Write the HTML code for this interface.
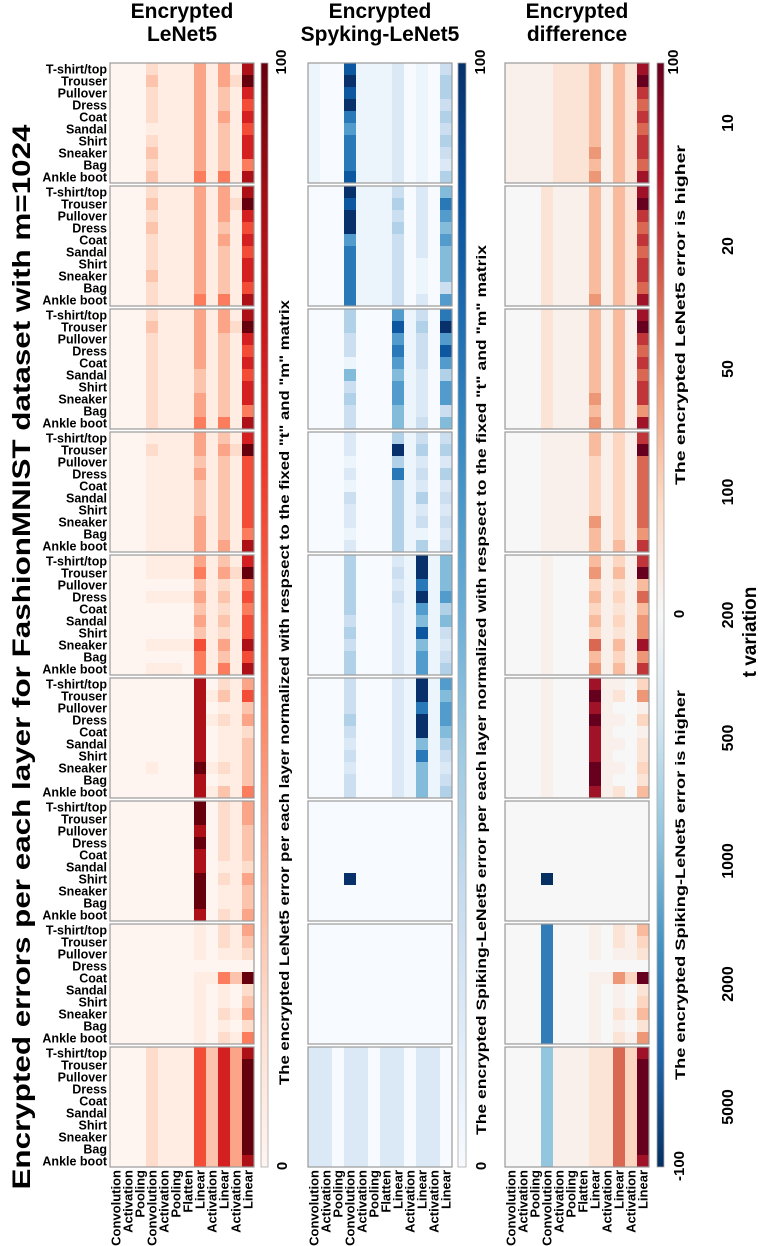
<!DOCTYPE html>
<html><head><meta charset="utf-8">
<style>
html,body{margin:0;padding:0;background:#fff;}
svg{display:block;font-family:"Liberation Sans",Arial,sans-serif;font-weight:bold;}
</style></head>
<body>
<svg id="fig" width="758" height="1246" viewBox="0 0 758 1246">
<defs>
<linearGradient id="gReds" x1="0" y1="1" x2="0" y2="0">
<stop offset="0" stop-color="#fff5f0"/><stop offset=".125" stop-color="#fee0d2"/><stop offset=".25" stop-color="#fcbba1"/><stop offset=".375" stop-color="#fc9272"/><stop offset=".5" stop-color="#fb6a4a"/><stop offset=".625" stop-color="#ef3b2c"/><stop offset=".75" stop-color="#cb181d"/><stop offset=".875" stop-color="#a50f15"/><stop offset="1" stop-color="#67000d"/>
</linearGradient>
<linearGradient id="gBlues" x1="0" y1="1" x2="0" y2="0">
<stop offset="0" stop-color="#f7fbff"/><stop offset=".125" stop-color="#deebf7"/><stop offset=".25" stop-color="#c6dbef"/><stop offset=".375" stop-color="#9ecae1"/><stop offset=".5" stop-color="#6baed6"/><stop offset=".625" stop-color="#4292c6"/><stop offset=".75" stop-color="#2171b5"/><stop offset=".875" stop-color="#08519c"/><stop offset="1" stop-color="#08306b"/>
</linearGradient>
<linearGradient id="gRdBu" x1="0" y1="1" x2="0" y2="0">
<stop offset="0" stop-color="#053061"/><stop offset=".1" stop-color="#2166ac"/><stop offset=".2" stop-color="#4393c3"/><stop offset=".3" stop-color="#92c5de"/><stop offset=".4" stop-color="#d1e5f0"/><stop offset=".5" stop-color="#f7f7f7"/><stop offset=".6" stop-color="#fddbc7"/><stop offset=".7" stop-color="#f4a582"/><stop offset=".8" stop-color="#d6604d"/><stop offset=".9" stop-color="#b2182b"/><stop offset="1" stop-color="#67001f"/>
</linearGradient>
</defs>

<text transform="translate(30,657) rotate(-90)" text-anchor="middle" font-size="25" textLength="1065" lengthAdjust="spacingAndGlyphs">Encrypted errors per each layer for FashionMNIST dataset with m=1024</text>

<text x="182" y="18" text-anchor="middle" font-size="21">Encrypted</text>
<text x="182" y="41" text-anchor="middle" font-size="21">LeNet5</text>
<text x="380" y="18" text-anchor="middle" font-size="21">Encrypted</text>
<text x="380" y="41" text-anchor="middle" font-size="21">Spyking-LeNet5</text>
<text x="577" y="18" text-anchor="middle" font-size="21">Encrypted</text>
<text x="577" y="41" text-anchor="middle" font-size="21">difference</text>

<rect x="261" y="63" width="7" height="1104" fill="url(#gReds)" stroke="#aaa" stroke-width="0.8"/>
<rect x="458" y="63" width="8" height="1104" fill="url(#gBlues)" stroke="#aaa" stroke-width="0.8"/>
<rect x="657" y="63" width="7" height="1104" fill="url(#gRdBu)" stroke="#aaa" stroke-width="0.8"/>

<text transform="translate(286,62) rotate(-90)" text-anchor="middle" font-size="15">100</text>
<text transform="translate(287,1166) rotate(-90)" text-anchor="middle" font-size="15">0</text>
<text transform="translate(485,62) rotate(-90)" text-anchor="middle" font-size="15">100</text>
<text transform="translate(486,1166) rotate(-90)" text-anchor="middle" font-size="15">0</text>
<text transform="translate(678,62) rotate(-90)" text-anchor="middle" font-size="15">100</text>
<text transform="translate(684,614) rotate(-90)" text-anchor="middle" font-size="15">0</text>
<text transform="translate(684,1166) rotate(-90)" text-anchor="middle" font-size="15">-100</text>

<text transform="translate(289,1085) rotate(-90)" font-size="13.5" textLength="785" lengthAdjust="spacingAndGlyphs">The encrypted LeNet5 error per each layer normalized with respsect to the fixed "t" and "m" matrix</text>
<text transform="translate(486,1135) rotate(-90)" font-size="13.5" textLength="890" lengthAdjust="spacingAndGlyphs">The encrypted Spiking-LeNet5 error per each layer normalized with respsect to the fixed "t" and "m" matrix</text>
<text transform="translate(685,485) rotate(-90)" font-size="13.5" textLength="340" lengthAdjust="spacingAndGlyphs">The encrypted LeNet5 error is higher</text>
<text transform="translate(685,1080) rotate(-90)" font-size="13.5" textLength="390" lengthAdjust="spacingAndGlyphs">The encrypted Spiking-LeNet5 error is higher</text>

<text transform="translate(756,632) rotate(-90)" text-anchor="middle" font-size="19">t variation</text>
<g id="plots"></g>
</svg>
<script>
const layers = ["Convolution","Activation","Pooling","Convolution","Activation","Pooling","Flatten","Linear","Activation","Linear","Activation","Linear"];
const classes = ["T-shirt/top","Trouser","Pullover","Dress","Coat","Sandal","Shirt","Sneaker","Bag","Ankle boot"];
const tValues = [10,20,50,100,200,500,1000,2000,5000];
// digit code -> value via levelValues ; letters a..j -> -10..-100
const levelValues = [0,5,14,22,32,44,58,72,85,100];
const lenetData = [
["000211141418","000311141429","000211141317","000211141316","000211141417","000111141316","000211141317","000311141317","000211141315","000311151518"],
["000211141418","000311141429","000211141417","000311141316","000211141417","000211141316","000211141317","000311141317","000211141316","000211151518"],
["000211141418","000311141429","000211141317","000211141316","000211141317","000211131316","000211131317","000211141317","000211141315","000211151518"],
["000111141317","000211141429","000111131316","000111141316","000111131316","000111131316","000111131316","000111141316","000111141315","000111141418"],
["000111141317","000111151429","000000031215","000111141316","000000031215","000000041316","000000031216","000111161418","000000051316","000111051518"],
["000000080214","000000081316","000000080113","000000081214","000000080112","000000080113","000000080113","000100091213","000000080113","000000081315"],
["000000090214","000000090214","000000080213","000000090213","000000080213","000000080112","000000090214","000000090113","000000090113","000000080214"],
["000000010214","000000010213","000000010112","000000000000","000000011539","000000010102","000000010103","000000010214","000000010102","000000010215"],
["000211163748","000211163749","000211163749","000211163749","000211163749","000211163749","000211163749","000211163749","000211163749","000211163748"]
];
const spikingData = [
["100811120103","100911120104","100811120104","100911120103","100711120104","100611120103","100711120104","100711120103","100711120102","100811120104"],
["000911130205","000811140207","000911130206","000911140205","000611130206","000711130205","000711130105","000711130105","000711130103","000711130206"],
["000400061307","000400081409","000300061306","000300071308","000100061306","000500051204","000300061206","000400061206","000300051203","000300051305"],
["000200041303","000200091404","000100041202","000200071304","000100041202","000300041403","000200041202","000200041303","000100041102","000200041403"],
["000400021915","000400031915","000400021715","000400031916","000400021614","000300021515","000400021813","000300021512","000400021613","000400021614"],
["000300021916","000300021915","000300021716","000400021916","000300021915","000200021514","000300021713","000200021512","000300021513","000300021514"],
["000000000000","000000000000","000000000000","000000000000","000000000000","000000000000","000900000000","000000000000","000000000000","000000000000"],
["000000000000","000000000000","000000000000","000000000000","000000000000","000000000000","000000000000","000000000000","000000000000","000000000000"],
["220220220220","220220220220","220220220220","220220220220","220220220220","220220220220","220220220220","220220220220","220220220220","220220220220"]
];
const diffData = [
["111122241428","111122241429","111122241427","111122241426","111122241427","111122241426","111122241427","111122251427","111122241426","111122251428"],
["000211141428","000211141429","000211141427","000211141426","000211141427","000211141426","000211141427","000211141427","000211141426","000211151428"],
["000211141418","000211141419","000211141417","000211141416","000211141417","000211141416","000211141417","000211151417","000211141415","000211151418"],
["000111141317","000111141319","000111131316","000111131316","000111131316","000111131316","000111131316","000111151316","000111141315","000111141417"],
["000100041317","000100051419","000100031214","000100041316","000100031214","000100041315","000100031215","000100061418","000100041315","000100051417"],
["000100081103","000100091205","000100081001","000100091103","000100081001","000100081102","000100081002","000100091103","000100091002","000100081204"],
["000000000000","000000000000","000000000000","000000000000","000000000000","000000000000","000j00000000","000000000000","000000000000","000000000000"],
["000g00010214","000g00010213","000g00010112","000g00000000","000g00011539","000g00010102","000g00010103","000g00010214","000g00010102","000g00010215"],
["000d11122638","000d11122639","000d11122639","000d11122639","000d11122639","000d11122639","000d11122639","000d11122639","000d11122639","000d11122638"]
];

const REDS=["#fff5f0","#fee0d2","#fcbba1","#fc9272","#fb6a4a","#ef3b2c","#cb181d","#a50f15","#67000d"];
const BLUES=["#f7fbff","#deebf7","#c6dbef","#9ecae1","#6baed6","#4292c6","#2171b5","#08519c","#08306b"];
const RDBU=["#053061","#2166ac","#4393c3","#92c5de","#d1e5f0","#f7f7f7","#fddbc7","#f4a582","#d6604d","#b2182b","#67001f"];
function hex(h){return [parseInt(h.slice(1,3),16),parseInt(h.slice(3,5),16),parseInt(h.slice(5,7),16)];}
function interp(stops,t){t=Math.max(0,Math.min(1,t));const p=t*(stops.length-1);const i=Math.min(Math.floor(p),stops.length-2);const f=p-i;const a=hex(stops[i]),b=hex(stops[i+1]);return "rgb("+a.map((v,k)=>Math.round(v+(b[k]-v)*f)).join(",")+")";}
function decode(ch){const c=ch.charCodeAt(0);if(c>=48&&c<=57)return levelValues[c-48];return -((c-96)*10);}

const PANEL_X=[110,308,505], TOP=63, PITCH=123, CELL=12;
function xScale(p,j){return PANEL_X[p]+j*CELL;}
function yScale(b,i){return TOP+b*PITCH+i*CELL;}
const NS="http://www.w3.org/2000/svg";
const g=document.getElementById("plots");
function mk(tag,attrs){const e=document.createElementNS(NS,tag);for(const k in attrs)e.setAttribute(k,attrs[k]);return e;}
const panels=[{d:lenetData,n:"lenet",c:v=>interp(REDS,v/100)},{d:spikingData,n:"spiking",c:v=>interp(BLUES,v/100)},{d:diffData,n:"difference",c:v=>interp(RDBU,(v+100)/200)}];
panels.forEach((P,p)=>{
  P.d.forEach((block,b)=>{
    block.forEach((row,i)=>{
      for(let j=0;j<layers.length;j++){
        const v=decode(row[j]);
        const r=mk("rect",{x:xScale(p,j),y:yScale(b,i),width:CELL+0.3,height:CELL+0.3,fill:P.c(v)});
        
        
        g.appendChild(r);
      }
    });
    const fr=mk("rect",{x:xScale(p,0),y:yScale(b,0),width:CELL*layers.length,height:CELL*classes.length,fill:"none",stroke:"#999","stroke-width":1.2});
    
    
    g.appendChild(fr);
  });
  layers.forEach((L,j)=>{
    const t=mk("text",{transform:"translate("+(xScale(p,j)+CELL/2+4.5)+",1170) rotate(-90)","text-anchor":"end","font-size":"13"});
    t.textContent=L;
    
    
    g.appendChild(t);
  });
});
tValues.forEach((tv,b)=>{
  classes.forEach((c,i)=>{
    const t=mk("text",{x:107,y:yScale(b,i)+CELL/2+4.5,"text-anchor":"end","font-size":"12.5"});
    t.textContent=c;
    
    
    g.appendChild(t);
  });
  const t=mk("text",{transform:"translate(733,"+(yScale(b,0)+60)+") rotate(-90)","text-anchor":"middle","font-size":"16"});
  t.textContent=String(tv);
  
  
  g.appendChild(t);
});
</script>
</body></html>
